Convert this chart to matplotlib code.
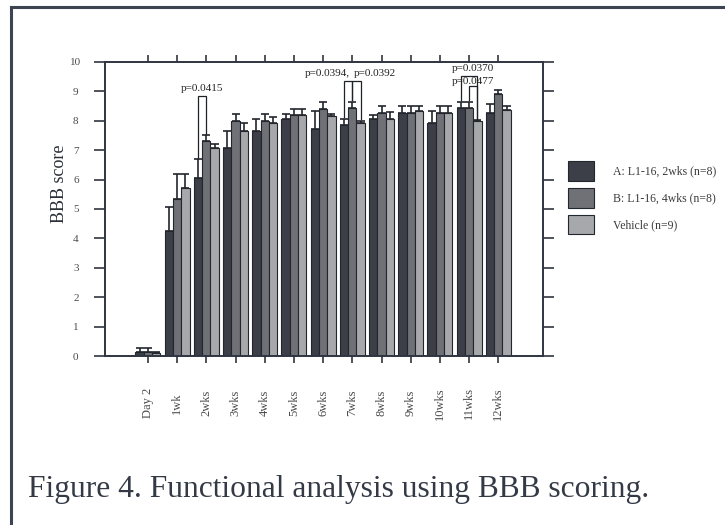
import matplotlib
matplotlib.use("Agg")
import matplotlib.pyplot as plt
import numpy as np
from matplotlib.patches import Patch
from matplotlib.lines import Line2D

plt.rcParams['font.family'] = ['Liberation Serif', 'DejaVu Serif']

# ---------------- data ----------------
timepoints = ["Day 2", "1wk", "2wks", "3wks", "4wks", "5wks", "6wks",
              "7wks", "8wks", "9wks", "10wks", "11wks", "12wks"]
group_a = [0.12, 4.26, 6.05, 7.09, 7.64, 8.07, 7.73, 7.86, 8.07, 8.27, 7.93, 8.42, 8.27]
group_b = [0.12, 5.35, 7.30, 8.00, 8.00, 8.20, 8.41, 8.42, 8.27, 8.27, 8.27, 8.42, 8.90]
vehicle = [0.10, 5.70, 7.09, 7.64, 7.91, 8.20, 8.16, 7.93, 8.07, 8.35, 8.27, 8.00, 8.36]
err_a = [0.16, 0.80, 0.65, 0.55, 0.42, 0.16, 0.62, 0.21, 0.13, 0.23, 0.42, 0.23, 0.31]
err_b = [0.16, 0.84, 0.20, 0.22, 0.22, 0.21, 0.24, 0.23, 0.22, 0.23, 0.23, 0.23, 0.15]
err_v = [0.05, 0.49, 0.11, 0.27, 0.21, 0.21, 0.06, 0.07, 0.23, 0.15, 0.23, 0.02, 0.14]
series_labels = ["A: L1-16, 2wks (n=8)", "B: L1-16, 4wks (n=8)", "Vehicle (n=9)"]
yticks = [0, 1, 2, 3, 4, 5, 6, 7, 8, 9, 10]

# significance brackets: (timepoint index, bar i, bar j, bracket top)
sig_pairs = [(2, 0, 1, 8.85),
             (7, 0, 1, 9.37),
             (7, 1, 2, 9.37),
             (11, 0, 2, 9.52),
             (11, 1, 2, 9.18)]
# p-value labels: (text, x, y, ha)
sig_texts = [("p=0.0415", 1.86, 8.95, 'center'),
             ("p=0.0394,", 6.92, 9.45, 'right'),
             ("p=0.0392", 7.06, 9.45, 'left'),
             ("p=0.0370", 10.41, 9.62, 'left'),
             ("p=0.0477", 10.41, 9.20, 'left')]

# ---------------- styling ----------------
colors = ["#3c3f47", "#6f7176", "#a7a8ab"]
edge = "#22262d"
ink = "#2f3540"

fig = plt.figure(figsize=(7.25, 5.25), dpi=100)
ax = fig.add_axes([105/725, 1-356/525, 438/725, 294/525])

x = np.arange(len(timepoints))
w = 0.285
series = [group_a, group_b, vehicle]
errs = [err_a, err_b, err_v]
for k, (vals, er) in enumerate(zip(series, errs)):
    pos = x + (k-1)*w
    ax.bar(pos, vals, width=w, color=colors[k], edgecolor=edge, linewidth=0.8,
           label=series_labels[k], zorder=2)
    ax.errorbar(pos, vals, yerr=[np.zeros(len(vals)), er], fmt='none',
                ecolor=edge, elinewidth=1.2, capsize=3.0, capthick=1.2, zorder=3)

# brackets
for t, i, j, top in sig_pairs:
    vi = series[i][t] + errs[i][t]
    vj = series[j][t] + errs[j][t]
    xi = t + (i-1)*w
    xj = t + (j-1)*w
    ax.plot([xi, xi, xj, xj], [vi + 0.05, top, top, vj + 0.05], color="#1e2127",
            lw=0.9, zorder=4, solid_joinstyle='miter')

for txt, tx, ty, ha in sig_texts:
    ax.text(tx, ty, txt, ha=ha, va='bottom', fontsize=8, color="#222")

ax.set_xlim(-1.47, 13.53)
ax.set_ylim(0, 10)
ax.set_yticks(yticks)
ax.set_yticklabels([str(v) for v in yticks], fontsize=8, color="#4a4a4a", ha='center')
ax.set_xticks(x)
ax.set_xticklabels(timepoints, rotation=90, fontsize=9, color="#4a4a4a",
                   va='center', ha='center')
ax.tick_params(axis='y', direction='out', length=8, width=1.2, pad=13, colors=ink,
               labelcolor="#4a4a4a", right=True)
ax.tick_params(axis='x', direction='out', length=5, width=1.2, pad=29, colors=ink,
               labelcolor="#4a4a4a", top=True)
ax.tick_params(axis='y', which='major', right=True, labelright=False)
for s in ax.spines.values():
    s.set_color(ink)
    s.set_linewidth(1.4)

ax.set_ylabel("BBB score", fontsize=13, color="#2a2f38", va='center')
ax.yaxis.set_label_coords(-0.103, 0.585)

# legend
handles = [Patch(facecolor=colors[k], edgecolor=edge, linewidth=0.8) for k in range(3)]
fs = 8.5
px = fs * 100 / 72
fig.legend(handles, series_labels, loc='upper left',
           bbox_to_anchor=(568/725, 1-161/525), bbox_transform=fig.transFigure,
           frameon=False, fontsize=fs, handlelength=26/px, handleheight=26/px,
           labelspacing=7/px, handletextpad=19/px, borderpad=0, borderaxespad=0,
           labelcolor="#3a3a3a")

# caption
fig.text(28/725, 1-497/525, "Figure 4. Functional analysis using BBB scoring.",
         fontsize=22.7, color="#333a46", ha='left', va='baseline')

# outer frame (left & top)
fig.add_artist(Line2D([11/725, 11/725], [0, 1-7/525], color="#3d4452", lw=2.2,
                      transform=fig.transFigure))
fig.add_artist(Line2D([11/725, 1], [1-7/525, 1-7/525], color="#3d4452", lw=2.2,
                      transform=fig.transFigure))

fig.savefig("out.png", dpi=100, facecolor="white")
